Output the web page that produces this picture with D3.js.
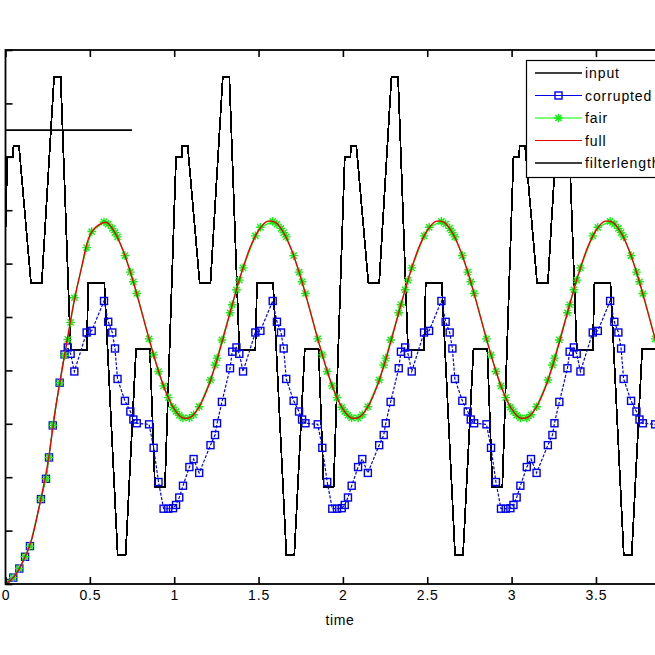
<!DOCTYPE html>
<html><head><meta charset="utf-8">
<script src="https://cdn.jsdelivr.net/npm/d3@7"></script>
<style>
html,body{margin:0;padding:0;background:#fff;}
svg{display:block;}
text{font-family:"Liberation Sans", Arial, sans-serif;fill:#000;}
</style></head><body>
<svg id="chart" width="655" height="655"></svg>
<script>
// ---- data ----
const inputT = [0, 0.011, 0.045, 0.047, 0.080, 0.151, 0.215, 0.288, 0.327, 0.386, 0.481, 0.491, 0.586, 0.665, 0.712, 0.774, 0.856, 0.886, 0.945,
  1.011, 1.045, 1.047, 1.080, 1.151, 1.215, 1.288, 1.327, 1.386, 1.481, 1.491, 1.586, 1.665, 1.712, 1.774, 1.856, 1.886, 1.945,
  2.011, 2.045, 2.047, 2.080, 2.151, 2.215, 2.288, 2.327, 2.386, 2.481, 2.491, 2.586, 2.665, 2.712, 2.774, 2.856, 2.886, 2.945,
  3.011, 3.045, 3.047, 3.080, 3.151, 3.215, 3.288, 3.327, 3.386, 3.481, 3.491, 3.586, 3.665, 3.712, 3.774, 3.856, 3.886, 3.945, 4.0];
const inputV = [6.6, 8.0, 8.0, 8.2, 8.2, 5.64, 5.64, 9.5, 9.5, 4.38, 4.38, 5.64, 5.64, 0.54, 0.54, 4.4, 4.4, 1.82, 1.82,
  8.0, 8.0, 8.2, 8.2, 5.64, 5.64, 9.5, 9.5, 4.38, 4.38, 5.64, 5.64, 0.54, 0.54, 4.4, 4.4, 1.82, 1.82,
  8.0, 8.0, 8.2, 8.2, 5.64, 5.64, 9.5, 9.5, 4.38, 4.38, 5.64, 5.64, 0.54, 0.54, 4.4, 4.4, 1.82, 1.82,
  8.0, 8.0, 8.2, 8.2, 5.64, 5.64, 9.5, 9.5, 4.38, 4.38, 5.64, 5.64, 0.54, 0.54, 4.4, 4.4, 1.82, 1.82, 6.97];

const sampleT = [0, 0.046, 0.082, 0.116, 0.145, 0.210, 0.240, 0.258, 0.280, 0.321, 0.350, 0.369, 0.386, 0.408, 0.481, 0.511, 0.584, 0.609, 0.633, 0.649, 0.664, 0.708, 0.740, 0.758, 0.778, 0.851, 0.878, 0.907, 0.937, 0.965, 0.993, 1.011, 1.030, 1.052, 1.090, 1.115, 1.148, 1.215, 1.242, 1.254, 1.283,
  1.331, 1.344, 1.369, 1.386, 1.408, 1.481, 1.511, 1.584, 1.609, 1.633, 1.649, 1.664, 1.708, 1.740, 1.758, 1.778, 1.851, 1.878, 1.907, 1.937, 1.965, 1.993, 2.011, 2.030, 2.052, 2.090, 2.115, 2.148, 2.215, 2.242, 2.254, 2.283,
  2.331, 2.344, 2.369, 2.386, 2.408, 2.481, 2.511, 2.584, 2.609, 2.633, 2.649, 2.664, 2.708, 2.740, 2.758, 2.778, 2.851, 2.878, 2.907, 2.937, 2.965, 2.993, 3.011, 3.030, 3.052, 3.090, 3.115, 3.148, 3.215, 3.242, 3.254, 3.283,
  3.331, 3.344, 3.369, 3.386, 3.408, 3.481, 3.511, 3.584, 3.609, 3.633, 3.649, 3.664, 3.708, 3.740, 3.758, 3.778, 3.851, 3.878, 3.907, 3.937, 3.965, 3.993];

const corruptedV = [0.02, 0.12, 0.29, 0.51, 0.71, 1.59, 1.97, 2.37, 2.97, 3.77, 4.30, 4.43, 4.31, 3.98, 4.71, 4.74, 5.30, 4.91, 4.71, 4.41, 3.84, 3.43, 3.23, 3.08, 3.01, 2.99, 2.55, 1.91, 1.41, 1.41, 1.42, 1.48, 1.62, 1.84, 2.19, 2.34, 2.08, 2.60, 2.79, 3.01, 3.41,
  4.04, 4.35, 4.43, 4.31, 3.98, 4.71, 4.74, 5.30, 4.91, 4.71, 4.41, 3.84, 3.43, 3.23, 3.08, 3.01, 2.99, 2.55, 1.91, 1.41, 1.41, 1.42, 1.48, 1.62, 1.84, 2.19, 2.34, 2.08, 2.60, 2.79, 3.01, 3.41,
  4.04, 4.35, 4.43, 4.31, 3.98, 4.71, 4.74, 5.30, 4.91, 4.71, 4.41, 3.84, 3.43, 3.23, 3.08, 3.01, 2.99, 2.55, 1.91, 1.41, 1.41, 1.42, 1.48, 1.62, 1.84, 2.19, 2.34, 2.08, 2.60, 2.79, 3.01, 3.41,
  4.04, 4.35, 4.43, 4.31, 3.98, 4.71, 4.74, 5.30, 4.91, 4.71, 4.41, 3.84, 3.43, 3.23, 3.08, 3.01, 2.99, 2.55, 1.91, 1.41, 1.41, 1.42];

const fairV = [0.02, 0.12, 0.29, 0.51, 0.71, 1.59, 1.97, 2.37, 2.97, 3.77, 4.28, 4.58, 4.90, 5.36, 6.30, 6.60, 6.78, 6.74, 6.66, 6.58, 6.50, 6.15, 5.84, 5.66, 5.44, 4.59, 4.29, 3.98, 3.71, 3.49, 3.31, 3.23, 3.16, 3.11, 3.11, 3.17, 3.32, 3.82, 4.10, 4.23, 4.57,
  5.08, 5.23, 5.51, 5.69, 5.92, 6.52, 6.68, 6.79, 6.74, 6.66, 6.58, 6.50, 6.15, 5.84, 5.66, 5.44, 4.59, 4.29, 3.98, 3.71, 3.49, 3.31, 3.23, 3.16, 3.11, 3.11, 3.17, 3.32, 3.82, 4.10, 4.23, 4.57,
  5.08, 5.23, 5.51, 5.69, 5.92, 6.52, 6.68, 6.79, 6.74, 6.66, 6.58, 6.50, 6.15, 5.84, 5.66, 5.44, 4.59, 4.29, 3.98, 3.71, 3.49, 3.31, 3.23, 3.16, 3.11, 3.11, 3.17, 3.32, 3.82, 4.10, 4.23, 4.57,
  5.08, 5.23, 5.51, 5.69, 5.92, 6.52, 6.68, 6.79, 6.74, 6.66, 6.58, 6.50, 6.15, 5.84, 5.66, 5.44, 4.59, 4.29, 3.98, 3.71, 3.49, 3.31];

const fullT = [0, 0.05, 0.1, 0.15, 0.2, 0.25, 0.3, 0.35, 0.4, 0.45, 0.5, 0.55, 0.6, 0.65, 0.7, 0.75, 0.8, 0.85, 0.9, 0.95,
  1, 1.05, 1.1, 1.15, 1.2, 1.25, 1.3, 1.35, 1.4, 1.45, 1.5, 1.55, 1.6, 1.65, 1.7, 1.75, 1.8, 1.85, 1.9, 1.95,
  2, 2.05, 2.1, 2.15, 2.2, 2.25, 2.3, 2.35, 2.4, 2.45, 2.5, 2.55, 2.6, 2.65, 2.7, 2.75, 2.8, 2.85, 2.9, 2.95,
  3, 3.05, 3.1, 3.15, 3.2, 3.25, 3.3, 3.35, 3.4, 3.45, 3.5, 3.55, 3.6, 3.65, 3.7, 3.75, 3.8, 3.85, 3.9, 3.95, 4];
const fullV = [0.00, 0.13, 0.40, 0.78, 1.45, 2.25, 3.35, 4.28, 5.18, 5.92, 6.53, 6.72, 6.77, 6.57, 6.22, 5.74, 5.18, 4.60, 4.06, 3.60,
  3.28, 3.11, 3.13, 3.33, 3.68, 4.16, 4.72, 5.30, 5.84, 6.30, 6.62, 6.79, 6.77, 6.57, 6.22, 5.74, 5.18, 4.60, 4.06, 3.60,
  3.28, 3.11, 3.13, 3.33, 3.68, 4.16, 4.72, 5.30, 5.84, 6.30, 6.62, 6.79, 6.77, 6.57, 6.22, 5.74, 5.18, 4.60, 4.06, 3.60,
  3.28, 3.11, 3.13, 3.33, 3.68, 4.16, 4.72, 5.30, 5.84, 6.30, 6.62, 6.79, 6.77, 6.57, 6.22, 5.74, 5.18, 4.60, 4.06, 3.60, 3.28];

const filterT = [0, 0.75];
const filterV = [8.5, 8.5];

const xTicks = [0, 0.5, 1, 1.5, 2, 2.5, 3, 3.5, 4];
const xTickLabels = ["0", "0.5", "1", "1.5", "2", "2.5", "3", "3.5", "4"];
const yTicks = [0, 1, 2, 3, 4, 5, 6, 7, 8, 9, 10];
const legendNames = ["input", "corrupted", "fair", "full", "filterlength"];
const xLabel = "time";

// ---- drawing ----
const svg = d3.select("#chart");
const x = d3.scaleLinear().domain([0, 4]).range([5.5, 680.3]);
const y = d3.scaleLinear().domain([0, 10]).range([584, 50]);

svg.append("rect").attr("width", 655).attr("height", 655).attr("fill", "#fff");

svg.append("defs").append("clipPath").attr("id", "plotclip")
  .append("rect").attr("x", x(0)).attr("y", y(10)).attr("width", x(4) - x(0)).attr("height", y(0) - y(10));

const plot = svg.append("g").attr("clip-path", "url(#plotclip)");

const lineGen = d3.line().x(d => x(d[0])).y(d => y(d[1]));
const zip = (a, b) => a.map((v, i) => [v, b[i]]);

// input
plot.append("path").datum(zip(inputT, inputV))
  .attr("d", lineGen).attr("fill", "none").attr("stroke", "#000")
  .attr("stroke-width", 1.8).attr("shape-rendering", "crispEdges");

// corrupted
const corr = zip(sampleT, corruptedV);
plot.append("path").datum(corr).attr("d", lineGen)
  .attr("fill", "none").attr("stroke", "#0000f0").attr("stroke-width", 1.2)
  .attr("stroke-dasharray", "3,1.6");
plot.selectAll("rect.sq").data(corr).enter().append("rect").attr("class", "sq")
  .attr("x", d => x(d[0]) - 3.5).attr("y", d => y(d[1]) - 3.5)
  .attr("width", 7).attr("height", 7)
  .attr("fill", "none").attr("stroke", "#0000f0").attr("stroke-width", 1.4);

// fair
const starPath = (cx, cy, r) => {
  const k = r * 0.72;
  return `M${cx - r},${cy}L${cx + r},${cy}M${cx},${cy - r}L${cx},${cy + r}` +
    `M${cx - k},${cy - k}L${cx + k},${cy + k}M${cx - k},${cy + k}L${cx + k},${cy - k}`;
};
const fair = zip(sampleT, fairV);
plot.append("path").datum(fair).attr("d", lineGen)
  .attr("fill", "none").attr("stroke", "#00ff00").attr("stroke-width", 1.2);
plot.selectAll("path.st").data(fair).enter().append("path").attr("class", "st")
  .attr("d", d => starPath(x(d[0]), y(d[1]), 4.3))
  .attr("fill", "none").attr("stroke", "#11ee11").attr("stroke-width", 1.4);

// full
plot.append("path").datum(zip(fullT, fullV))
  .attr("d", d3.line().x(d => x(d[0])).y(d => y(d[1])).curve(d3.curveCatmullRom))
  .attr("fill", "none").attr("stroke", "#ee0000").attr("stroke-width", 1.4);

// filterlength
plot.append("path").datum(zip(filterT, filterV)).attr("d", lineGen)
  .attr("fill", "none").attr("stroke", "#000").attr("stroke-width", 1.6);

// axes box
const axG = svg.append("g");
axG.append("rect").attr("x", x(0)).attr("y", y(10)).attr("width", x(4) - x(0)).attr("height", y(0) - y(10))
  .attr("fill", "none").attr("stroke", "#000").attr("stroke-width", 1.8);

const gBottom = svg.append("g").attr("transform", `translate(0,${y(0)})`)
  .call(d3.axisBottom(x).tickValues(xTicks).tickSize(-7).tickSizeOuter(0).tickPadding(6)
    .tickFormat((d, i) => xTickLabels[i]));
const gTop = svg.append("g").attr("transform", `translate(0,${y(10)})`)
  .call(d3.axisTop(x).tickValues(xTicks).tickSize(-7).tickSizeOuter(0).tickFormat(""));
const gLeft = svg.append("g").attr("transform", `translate(${x(0)},0)`)
  .call(d3.axisLeft(y).tickValues(yTicks).tickSize(-7).tickSizeOuter(0).tickFormat(""));
[gBottom, gTop, gLeft].forEach(g => {
  g.select(".domain").remove();
  g.selectAll(".tick line").attr("stroke", "#000").attr("stroke-width", 1.6);
});
gBottom.selectAll(".tick text").attr("font-size", 14).attr("letter-spacing", 0.8)
  .attr("font-family", "Liberation Sans, Arial, sans-serif").attr("fill", "#000");
gBottom.selectAll(".tick").filter(d => d > 3.9).select("text").remove();

svg.append("text").attr("x", 340).attr("y", 625).attr("text-anchor", "middle")
  .attr("font-size", 14).attr("letter-spacing", 0.6).text(xLabel);

// legend
const lg = svg.append("g");
lg.append("rect").attr("x", 526.5).attr("y", 60.5).attr("width", 200).attr("height", 117)
  .attr("fill", "#fff").attr("stroke", "#000").attr("stroke-width", 1.2);
const legColors = ["#000", "#0000f0", "#00ff00", "#ee0000", "#000"];
legendNames.forEach((name, i) => {
  const yy = 73 + i * 22.5;
  lg.append("line").attr("x1", 535).attr("x2", 582).attr("y1", yy).attr("y2", yy)
    .attr("stroke", legColors[i]).attr("stroke-width", i === 0 || i === 4 ? 1.5 : 1.2);
  if (i === 1) {
    lg.append("rect").attr("x", 555).attr("y", yy - 3.5).attr("width", 7).attr("height", 7)
      .attr("fill", "none").attr("stroke", "#0000f0").attr("stroke-width", 1.4);
  }
  if (i === 2) {
    lg.append("path").attr("d", starPath(558.5, yy, 4.3)).attr("fill", "none")
      .attr("stroke", "#11ee11").attr("stroke-width", 1.4);
  }
  lg.append("text").attr("x", 585).attr("y", yy + 5).attr("font-size", 14)
    .attr("letter-spacing", 0.9).text(name);
});
</script>
</body></html>
